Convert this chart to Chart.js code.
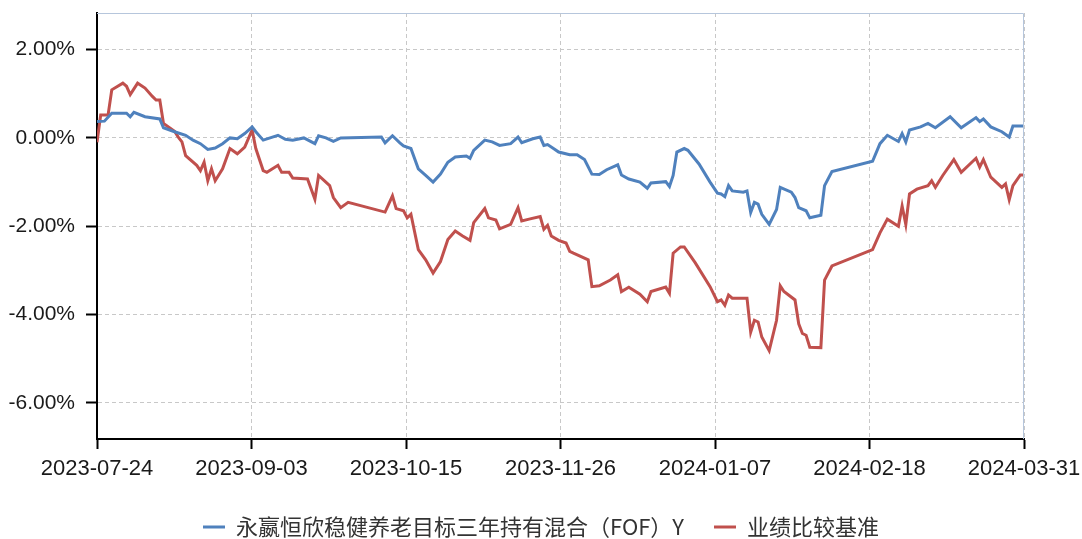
<!DOCTYPE html>
<html>
<head>
<meta charset="utf-8">
<script src="https://cdn.jsdelivr.net/npm/chart.js@4"></script>
<style>
  html, body { margin: 0; padding: 0; background: #fff; }
</style>
</head>
<body>
<canvas id="myChart" width="1082" height="539"></canvas>
<script>
// Datos (dias desde 2023-07-24, rendimiento en %)
const seriesNames = ['永嬴恒欣稳健养老目标三年持有混合（FOF）Y', '业绩比较基准'];

const tickLabels = ['2023-07-24', '2023-09-03', '2023-10-15', '2023-11-26', '2024-01-07', '2024-02-18', '2024-03-31'];
const totalDays = 251;
const yTicks = [-6, -4, -2, 0, 2];

const fundDays = [0, 2, 4, 8, 9, 10, 13, 17, 18, 21, 24, 26, 28, 30, 32, 34, 36, 38, 40, 42,
  43, 45, 49, 51, 53, 56, 59, 60, 62, 64, 66, 77, 78, 80, 82, 83, 85, 87, 89, 91,
  93, 95, 97, 100, 101, 102, 105, 107, 109, 112, 114, 115, 118, 120, 121, 122, 124, 125, 128, 130,
  132, 134, 136, 138, 141, 142, 144, 147, 149, 150, 154, 155, 156, 157, 159, 160, 163, 166, 168, 169,
  170, 171, 172, 175, 176, 177, 178, 179, 180, 182, 184, 185, 188, 189, 190, 192, 193, 196, 197, 199,
  210, 212, 214, 217, 218, 219, 220, 223, 225, 227, 231, 234, 238, 239, 240, 242, 245, 247, 248, 251];
const fundValues = [0.37, 0.38, 0.56, 0.56, 0.48, 0.58, 0.48, 0.43, 0.23, 0.14, 0.06, -0.05, -0.13, -0.26, -0.23, -0.13, 0.00, -0.02, 0.10, 0.25,
  0.14, -0.05, 0.06, -0.03, -0.05, 0.00, -0.13, 0.05, 0.00, -0.08, 0.00, 0.02, -0.11, 0.05, -0.11, -0.18, -0.24, -0.70, -0.85, -1.00,
  -0.82, -0.55, -0.43, -0.41, -0.46, -0.28, -0.05, -0.09, -0.17, -0.13, 0.02, -0.11, -0.02, 0.02, -0.17, -0.15, -0.26, -0.32, -0.38, -0.38,
  -0.49, -0.82, -0.83, -0.72, -0.61, -0.84, -0.93, -1.00, -1.14, -1.02, -0.99, -1.10, -0.85, -0.32, -0.24, -0.28, -0.59, -1.00, -1.25, -1.27,
  -1.33, -1.08, -1.20, -1.23, -1.20, -1.69, -1.46, -1.50, -1.73, -1.96, -1.62, -1.12, -1.23, -1.35, -1.58, -1.65, -1.81, -1.75, -1.08, -0.76,
  -0.53, -0.13, 0.06, -0.08, 0.10, -0.09, 0.18, 0.25, 0.33, 0.23, 0.48, 0.23, 0.46, 0.37, 0.43, 0.25, 0.14, 0.02, 0.27, 0.27];

const benchDays = [0, 1, 3, 4, 7, 8, 9, 11, 13, 15, 16, 17, 18, 21, 22, 23, 24, 27, 28, 29,
  30, 31, 32, 34, 36, 38, 40, 42, 43, 45, 46, 49, 50, 52, 53, 57, 59, 60, 63, 64,
  66, 68, 78, 80, 81, 83, 84, 85, 87, 89, 91, 93, 95, 97, 99, 101, 102, 105, 106, 108,
  109, 112, 114, 115, 117, 120, 121, 122, 123, 125, 127, 128, 129, 133, 134, 136, 139, 141, 142, 144,
  147, 149, 150, 154, 155, 156, 158, 159, 162, 166, 168, 169, 170, 171, 172, 176, 177, 178, 179, 180,
  182, 184, 185, 186, 189, 190, 191, 192, 193, 196, 197, 199, 210, 212, 214, 217, 218, 219, 220, 222,
  225, 226, 227, 229, 232, 234, 238, 239, 240, 242, 245, 246, 247, 248, 250, 251];
const benchValues = [-0.10, 0.52, 0.52, 1.09, 1.24, 1.17, 0.98, 1.24, 1.13, 0.94, 0.86, 0.86, 0.33, 0.15, 0.02, -0.09, -0.40, -0.62, -0.74, -0.55,
  -0.97, -0.70, -0.97, -0.70, -0.24, -0.36, -0.21, 0.18, -0.24, -0.74, -0.78, -0.62, -0.78, -0.78, -0.91, -0.93, -1.39, -0.85, -1.08, -1.35,
  -1.58, -1.46, -1.68, -1.31, -1.60, -1.65, -1.81, -1.73, -2.53, -2.76, -3.06, -2.80, -2.30, -2.11, -2.22, -2.32, -1.92, -1.60, -1.81, -1.86,
  -2.06, -1.96, -1.58, -1.88, -1.84, -1.78, -2.07, -1.98, -2.22, -2.32, -2.38, -2.57, -2.61, -2.76, -3.37, -3.35, -3.22, -3.10, -3.48, -3.38,
  -3.54, -3.71, -3.48, -3.38, -3.52, -2.61, -2.47, -2.47, -2.83, -3.37, -3.71, -3.67, -3.79, -3.56, -3.63, -3.63, -4.40, -4.13, -4.17, -4.51,
  -4.82, -4.13, -3.35, -3.48, -3.67, -4.21, -4.43, -4.47, -4.74, -4.75, -3.22, -2.90, -2.53, -2.15, -1.84, -2.00, -1.54, -1.96, -1.27, -1.16,
  -1.08, -0.97, -1.12, -0.85, -0.49, -0.78, -0.46, -0.66, -0.49, -0.89, -1.12, -1.04, -1.40, -1.08, -0.84, -0.84];

// Convertir a puntos {x, y}
const toPoints = (days, vals) => days.map((d, i) => ({ x: d, y: vals[i] }));

// Borde superior y derecho del area del grafico
const framePlugin = {
  id: 'frame',
  afterDraw(chart) {
    const { ctx, chartArea: a } = chart;
    ctx.save();
    ctx.strokeStyle = '#b6c6dc';
    ctx.lineWidth = 1;
    ctx.beginPath();
    ctx.moveTo(a.left, a.top + 0.5);
    ctx.lineTo(a.right - 0.5, a.top + 0.5);
    ctx.lineTo(a.right - 0.5, a.bottom);
    ctx.stroke();
    ctx.restore();
  }
};

const ctx = document.getElementById('myChart').getContext('2d');

const chart = new Chart(ctx, {
  type: 'line',
  data: {
    datasets: [{
      label: seriesNames[0],
      data: toPoints(fundDays, fundValues),
      borderColor: '#4f81bd',
      backgroundColor: '#4f81bd',
      borderWidth: 3,
      pointRadius: 0,
      tension: 0
    }, {
      label: seriesNames[1],
      data: toPoints(benchDays, benchValues),
      borderColor: '#c0504d',
      backgroundColor: '#c0504d',
      borderWidth: 3,
      pointRadius: 0,
      tension: 0
    }]
  },
  options: {
    responsive: false,
    animation: false,
    layout: { padding: { left: 0, top: 13, right: 0, bottom: -9 } },
    plugins: {
      tooltip: { enabled: false },
      legend: {
        position: 'bottom',
        labels: {
          usePointStyle: true,
          pointStyle: 'line',
          pointStyleWidth: 22,
          padding: 30,
          color: '#333',
          font: { family: '"Noto Sans CJK SC", "Liberation Sans", sans-serif', size: 22 }
        }
      }
    },
    scales: {
      x: {
        type: 'linear',
        min: 0,
        max: totalDays,
        afterBuildTicks: (scale) => {
          scale.ticks = tickLabels.map((t, i) => ({ value: i * totalDays / (tickLabels.length - 1) }));
        },
        afterFit: (scale) => {
          scale.height = 47;
          scale.paddingLeft = 0;
          scale.paddingRight = 58;
        },
        ticks: {
          maxRotation: 0,
          autoSkip: false,
          padding: 7,
          color: '#1a1a1a',
          font: { family: '"Liberation Sans", Arial, sans-serif', size: 22 },
          callback: (v, i) => tickLabels[i]
        },
        grid: {
          color: '#c8c8c8',
          tickColor: '#000',
          tickLength: 10,
          tickWidth: 2
        },
        border: { display: true, color: '#000', width: 2, dash: [4, 3] }
      },
      y: {
        min: -6.82,
        max: 2.83,
        afterBuildTicks: (scale) => {
          scale.ticks = yTicks.map(v => ({ value: v }));
        },
        afterFit: (scale) => {
          scale.width = 97;
          scale.paddingTop = 0;
          scale.paddingBottom = 0;
        },
        ticks: {
          padding: 11,
          color: '#1a1a1a',
          font: { family: '"Liberation Sans", Arial, sans-serif', size: 21 },
          callback: (v) => v.toFixed(2) + '%'
        },
        grid: {
          color: '#c8c8c8',
          tickColor: '#000',
          tickLength: 11,
          tickWidth: 2
        },
        border: { display: true, color: '#000', width: 2, dash: [4, 3] }
      }
    }
  },
  plugins: [framePlugin]
});
</script>
</body>
</html>
